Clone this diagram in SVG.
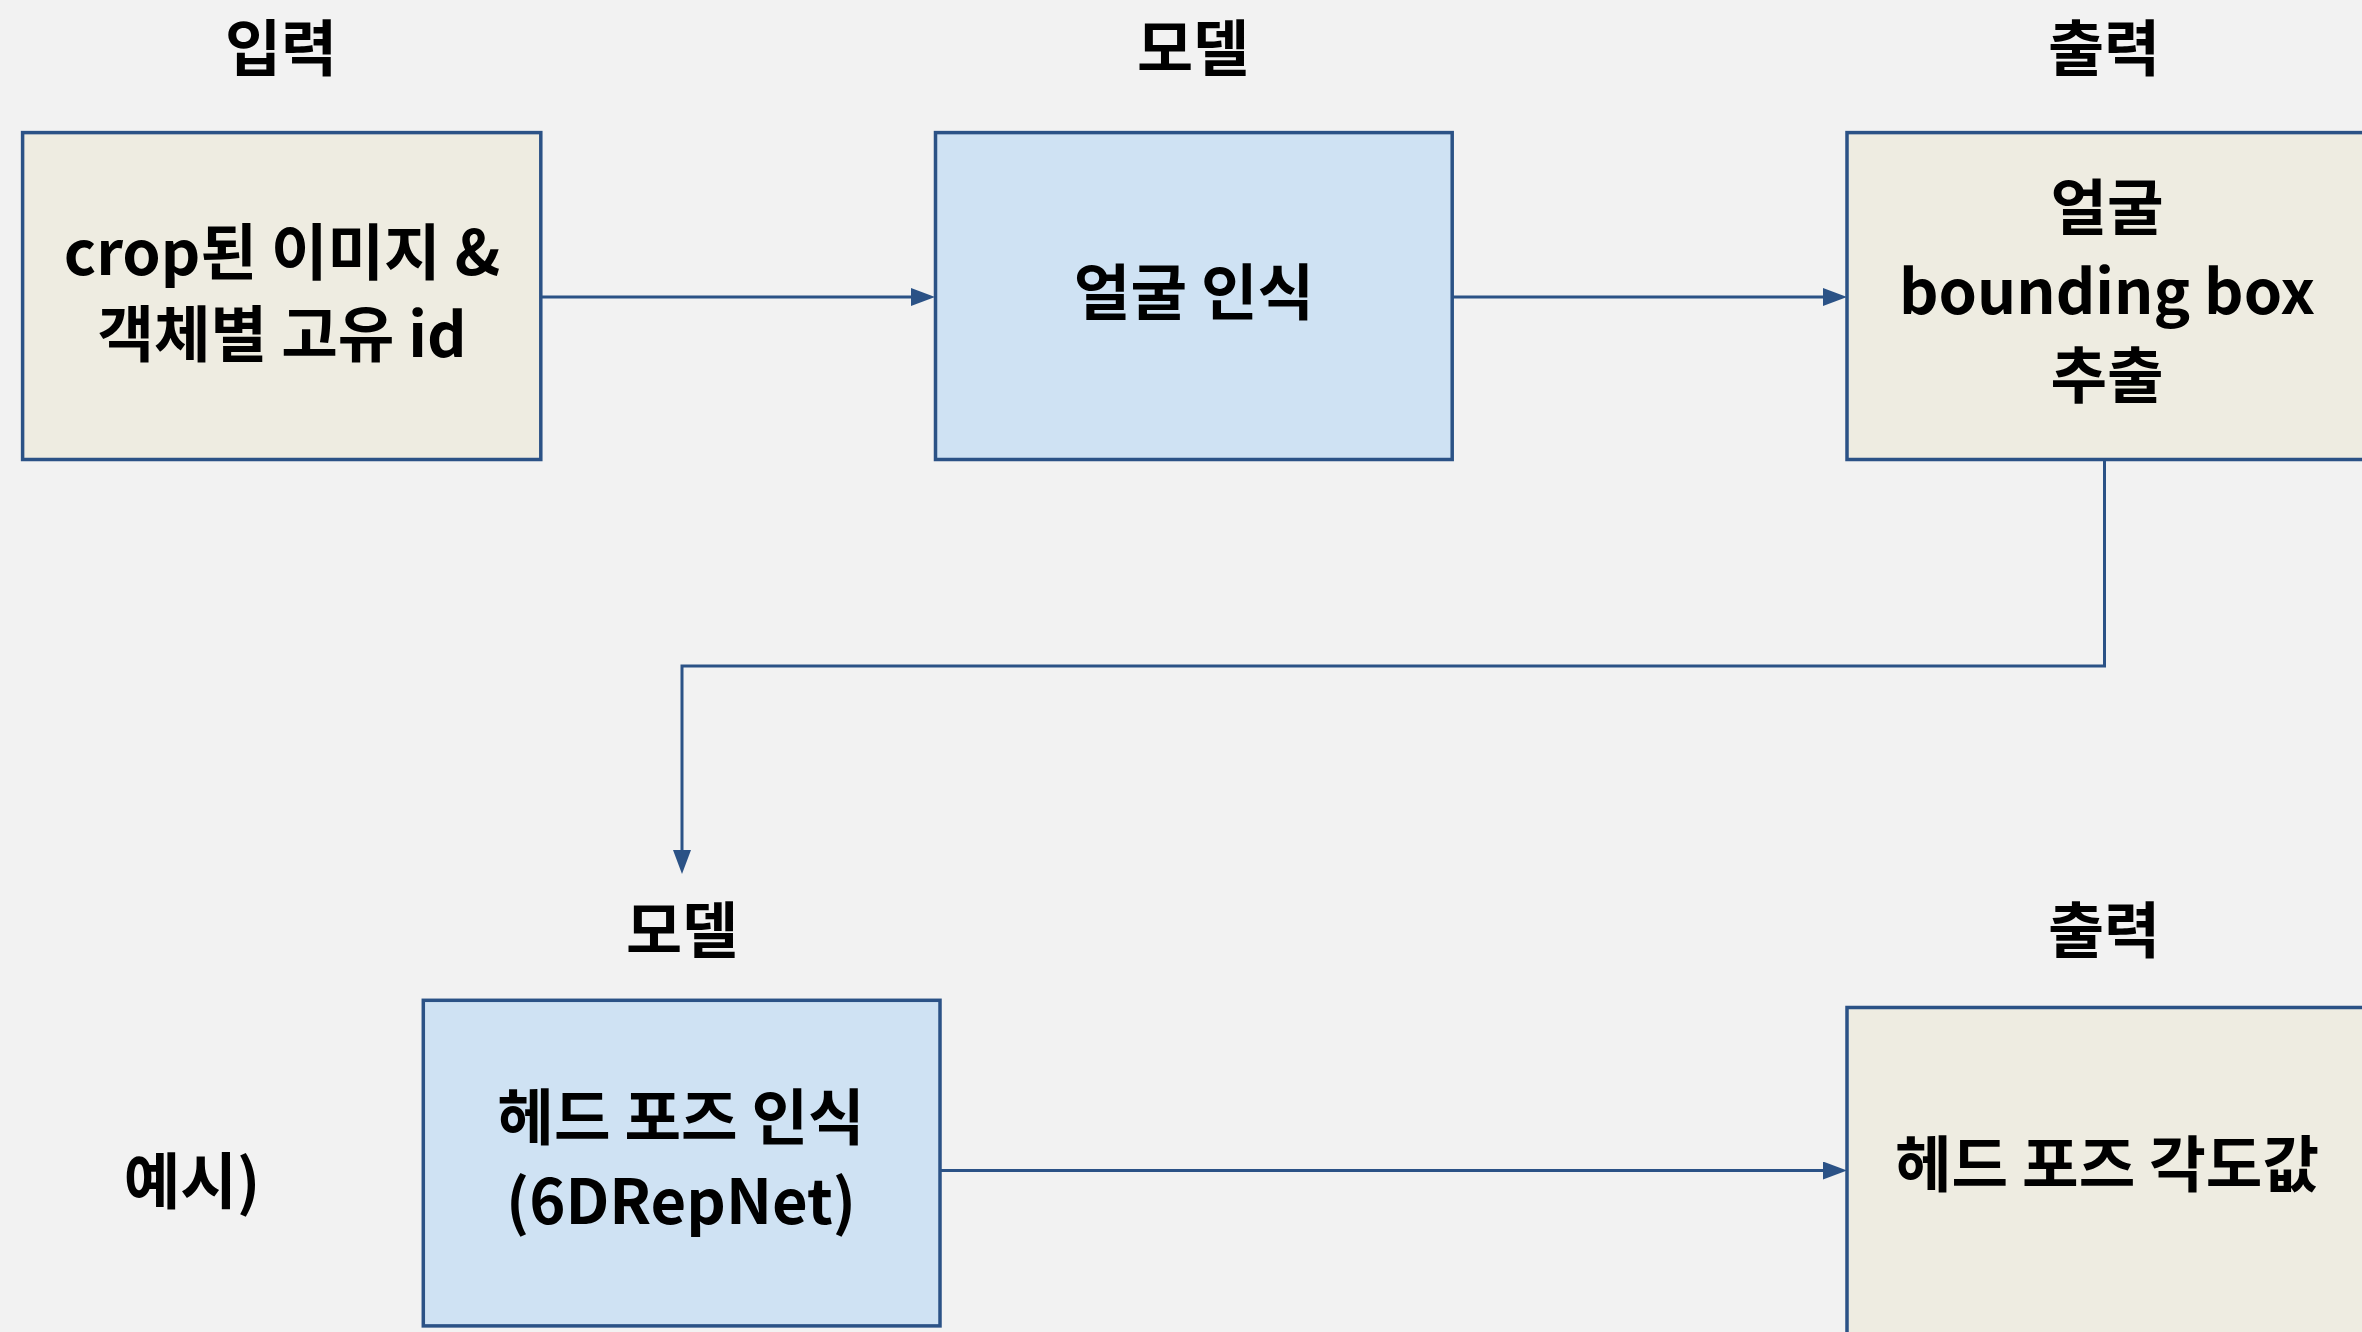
<svg xmlns="http://www.w3.org/2000/svg" width="2362" height="1332" viewBox="0 0 2362 1332">
  <defs>
    <style>
      .t { font-family: "Noto Sans CJK KR", "Noto Sans", sans-serif; font-weight: 700; font-size: 61.5px; fill: #000000; text-anchor: middle; }
      .title { font-size: 61px; }
      .box { stroke: #2b5286; stroke-width: 3.5; }
      .beige { fill: #eeece1; }
      .blue { fill: #cfe2f3; }
      .conn { fill: none; stroke: #2b5286; stroke-width: 3; }
    </style>
    <marker id="arrow" markerUnits="userSpaceOnUse" markerWidth="24" markerHeight="18" refX="0" refY="9" orient="auto" viewBox="0 0 24 18">
      <path d="M0,0 L24,9 L0,18 z" fill="#2b5286"/>
    </marker>
  </defs>
  <rect width="2362" height="1332" fill="#f2f2f2"/>

  <g id="labels">
    <text class="t title" x="281" y="71">입력</text>
    <text class="t title" x="1193" y="71">모델</text>
    <text class="t title" x="2104" y="71">출력</text>
    <text class="t title" x="682" y="953">모델</text>
    <text class="t title" x="2104" y="953">출력</text>
    <text class="t" x="192" y="1204">예시)</text>
  </g>

  <g id="connectors">
    <path class="conn" d="M541,297 H911" marker-end="url(#arrow)"/>
    <path class="conn" d="M1452,297 H1823" marker-end="url(#arrow)"/>
    <path class="conn" d="M2104.5,460 V666 H682 V850" marker-end="url(#arrow)"/>
    <path class="conn" d="M940,1170.5 H1823" marker-end="url(#arrow)"/>
  </g>

  <g id="node-input">
    <rect class="box beige" x="22.6" y="132.6" width="518.2" height="326.9"/>
    <text class="t" x="282" y="275">crop된 이미지 &amp;<tspan x="282" dy="82">객체별 고유 id</tspan></text>
  </g>

  <g id="node-face-detect">
    <rect class="box blue" x="935.5" y="132.6" width="516.7" height="326.9"/>
    <text class="t" x="1194" y="315">얼굴 인식</text>
  </g>

  <g id="node-bbox">
    <rect class="box beige" x="1847" y="132.6" width="520" height="326.9"/>
    <text class="t" x="2107" y="230">얼굴<tspan x="2107" dy="84">bounding box</tspan><tspan x="2107" dy="84">추출</tspan></text>
  </g>

  <g id="node-headpose">
    <rect class="box blue" x="423.3" y="1000.3" width="516.7" height="325.6"/>
    <text class="t" x="681" y="1140">헤드 포즈 인식<tspan x="681" dy="84">(6DRepNet)</tspan></text>
  </g>

  <g id="node-angle">
    <rect class="box beige" x="1847" y="1007.5" width="520" height="340"/>
    <text class="t" x="2107" y="1187">헤드 포즈 각도값</text>
  </g>
</svg>
